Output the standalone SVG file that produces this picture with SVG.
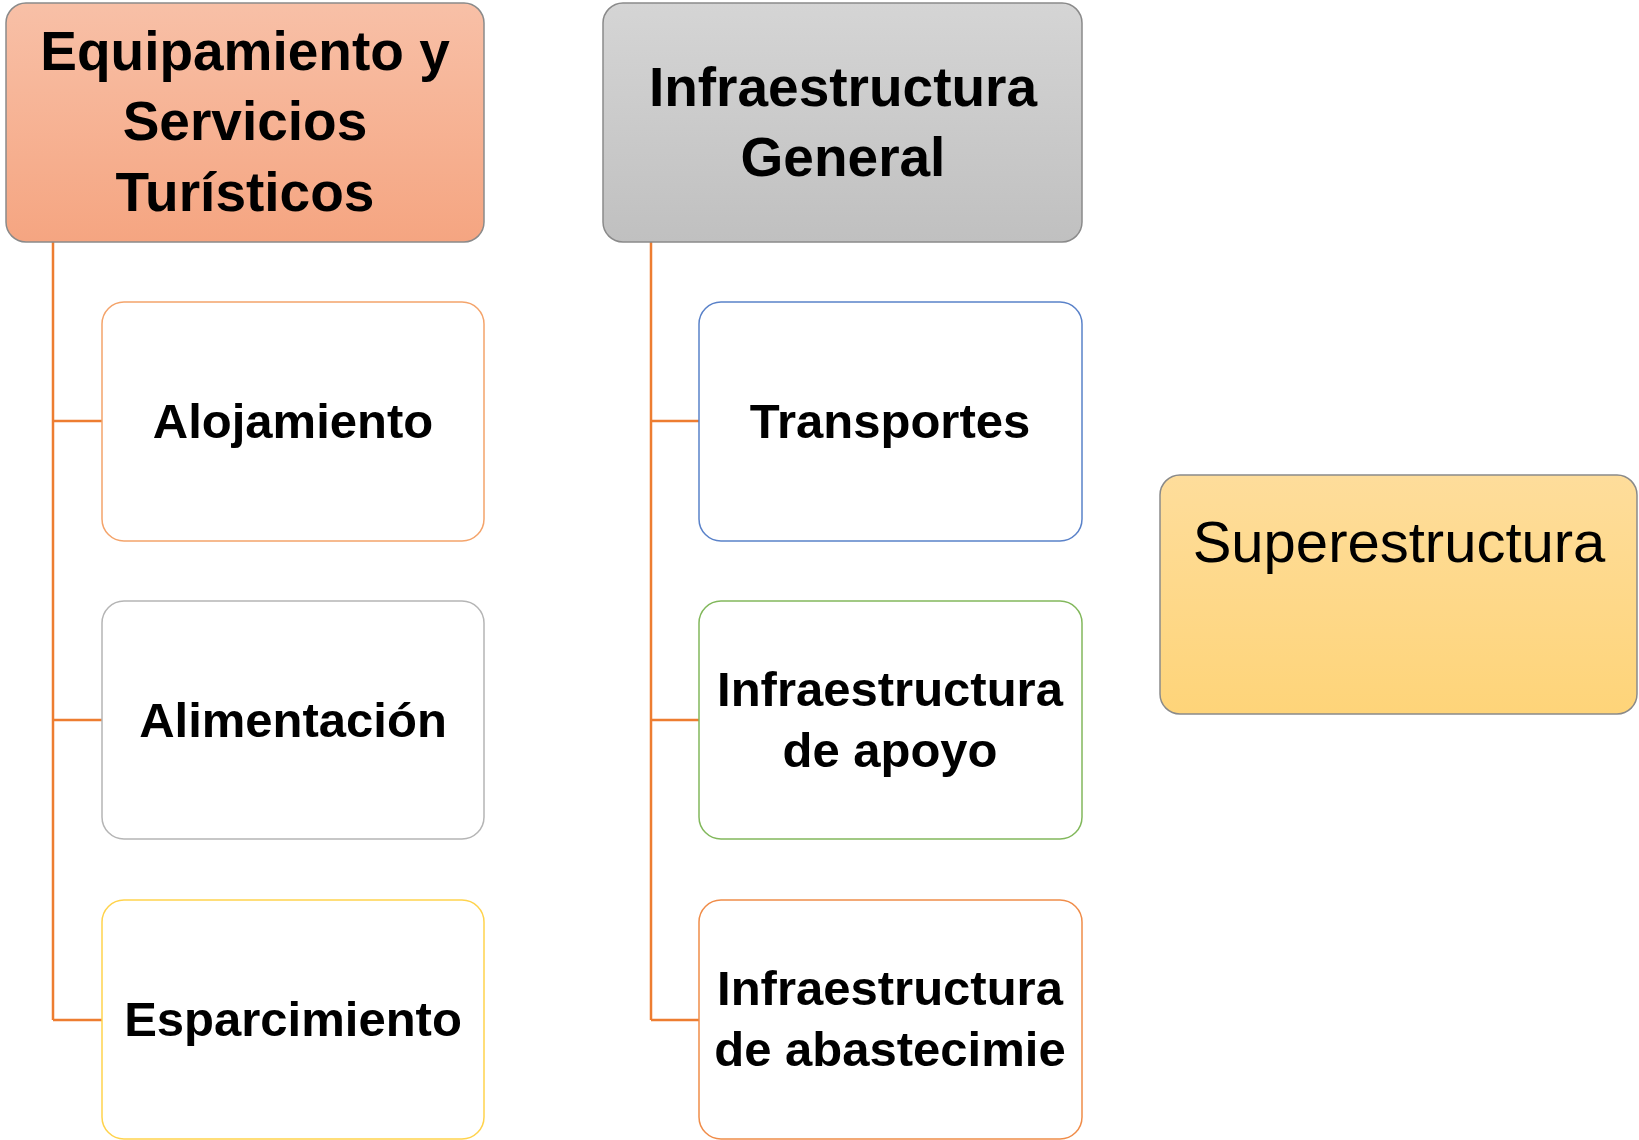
<svg xmlns="http://www.w3.org/2000/svg" width="1639" height="1140" viewBox="0 0 1639 1140">
<defs>
<linearGradient id="gOrange" x1="0" y1="0" x2="0" y2="1"><stop offset="0" stop-color="#f8c0a7"/><stop offset="1" stop-color="#f5a581"/></linearGradient>
<linearGradient id="gGray" x1="0" y1="0" x2="0" y2="1"><stop offset="0" stop-color="#d5d5d5"/><stop offset="1" stop-color="#c0c0c0"/></linearGradient>
<linearGradient id="gGold" x1="0" y1="0" x2="0" y2="1"><stop offset="0" stop-color="#fedd9b"/><stop offset="1" stop-color="#fed479"/></linearGradient>
</defs>
<style>
.head{stroke:#8a8a8a;stroke-width:1.5}
.child{fill:#ffffff;stroke-width:1.5}
.conn{stroke:#ed7d31;stroke-width:2.5;fill:none}
text{font-family:"Liberation Sans",Arial,sans-serif;fill:#000;text-anchor:middle}
.hb{font-size:55px;font-weight:bold}
.cb{font-size:49px;font-weight:bold}
.sr{font-size:58px}
</style>
<rect width="1639" height="1140" fill="#ffffff"/>
<g id="connectors">
<path class="conn" d="M53 242 V1020 M53 421 H102 M53 720 H102 M53 1020 H102"/>
<path class="conn" d="M651 242 V1020 M651 421 H699 M651 720 H699 M651 1020 H699"/>
</g>
<g id="equipamiento">
<rect class="head" x="6" y="3" width="478" height="239" rx="20" fill="url(#gOrange)"/>
<text class="hb" x="245" y="70">Equipamiento y</text>
<text class="hb" x="245" y="140">Servicios</text>
<text class="hb" x="245" y="211">Turísticos</text>
</g>
<g id="infraestructura-general">
<rect class="head" x="603" y="3" width="479" height="239" rx="20" fill="url(#gGray)"/>
<text class="hb" x="843" y="106">Infraestructura</text>
<text class="hb" x="843" y="176">General</text>
</g>
<g id="alojamiento">
<rect class="child" x="102" y="302" width="382" height="239" rx="22" stroke="#f4a46b"/>
<text class="cb" x="293" y="438">Alojamiento</text>
</g>
<g id="alimentacion">
<rect class="child" x="102" y="601" width="382" height="238" rx="22" stroke="#b5b5b5"/>
<text class="cb" x="293" y="737">Alimentación</text>
</g>
<g id="esparcimiento">
<rect class="child" x="102" y="900" width="382" height="239" rx="22" stroke="#ffd34d"/>
<text class="cb" x="293" y="1036">Esparcimiento</text>
</g>
<g id="transportes">
<rect class="child" x="699" y="302" width="383" height="239" rx="22" stroke="#5a82c9"/>
<text class="cb" x="890" y="438">Transportes</text>
</g>
<g id="infraestructura-apoyo">
<rect class="child" x="699" y="601" width="383" height="238" rx="22" stroke="#82b85c"/>
<text class="cb" x="890" y="706">Infraestructura</text>
<text class="cb" x="890" y="767">de apoyo</text>
</g>
<g id="infraestructura-abastecimiento">
<rect class="child" x="699" y="900" width="383" height="239" rx="22" stroke="#f08d4a"/>
<text class="cb" x="890" y="1005">Infraestructura</text>
<text class="cb" x="890" y="1066">de abastecimie</text>
</g>
<g id="superestructura">
<rect class="head" x="1160" y="475" width="477" height="239" rx="20" fill="url(#gGold)"/>
<text class="sr" x="1399" y="562">Superestructura</text>
</g>
</svg>
